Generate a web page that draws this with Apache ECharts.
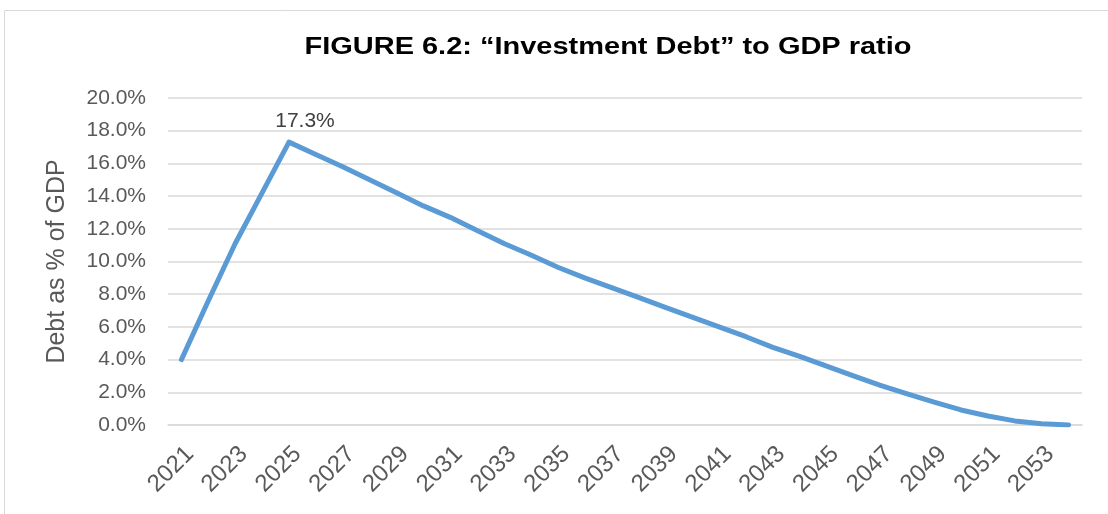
<!DOCTYPE html>
<html>
<head>
<meta charset="utf-8">
<title>Investment Debt to GDP ratio</title>
<script src="https://cdn.jsdelivr.net/npm/echarts@6/dist/echarts.min.js"></script>
<style>
  html, body { margin: 0; padding: 0; background: #ffffff; }
  #chart { width: 1108px; height: 514px; }
</style>
</head>
<body>
<div id="chart"></div>
<script>
// Years on the horizontal axis
const years = [];
for (let y = 2021; y <= 2054; y++) years.push(String(y));

// "Investment Debt" as a percentage of GDP, one value per year
const debtPct = [
  4.0, 7.6, 11.1, 14.2, 17.3, 16.55, 15.8, 15.0, 14.2, 13.4,
  12.7, 11.9, 11.1, 10.4, 9.65, 9.0, 8.4, 7.8, 7.2, 6.6,
  6.0, 5.4, 4.75, 4.2, 3.6, 3.0, 2.43, 1.9, 1.4, 0.92,
  0.55, 0.25, 0.08, 0.0
];

// Year whose value is labelled on the line
const labelledYear = '2025';

// Vertical axis range and step, in percent
const yMin = 0;
const yMax = 20;
const yStep = 2;

const titleText = 'FIGURE 6.2: \u201CInvestment Debt\u201D to GDP ratio';
const yAxisTitle = 'Debt as % of GDP';

const FONT = 'Liberation Sans, Arial, sans-serif';

const chart = echarts.init(document.getElementById('chart'), null, { renderer: 'canvas' });

const seriesData = debtPct.map((v, i) => {
  if (years[i] === labelledYear) {
    return {
      value: v,
      symbol: 'circle',
      symbolSize: 1,
      itemStyle: { opacity: 0 },
      label: {
        show: true,
        position: 'top',
        distance: 10,
        offset: [16, 0],
        formatter: (p) => p.value.toFixed(1) + '%',
        fontFamily: FONT,
        fontSize: 21,
        color: '#404040',
        opacity: 1
      }
    };
  }
  return v;
});

chart.setOption({
  animation: false,
  backgroundColor: '#ffffff',
  textStyle: { fontFamily: FONT },
  graphic: [
    {
      // chart frame
      type: 'rect',
      silent: true,
      shape: { x: 4.5, y: 10.5, width: 1120, height: 520 },
      style: { fill: 'none', stroke: '#d9d9d9', lineWidth: 1 }
    },
    {
      // chart title, set wide
      type: 'text',
      silent: true,
      x: 608,
      y: 48,
      scaleX: 1.26,
      scaleY: 1,
      style: {
        text: titleText,
        fontFamily: FONT,
        fontWeight: 'bold',
        fontSize: 23,
        fill: '#000000',
        textAlign: 'center',
        textVerticalAlign: 'middle'
      }
    }
  ],
  grid: { left: 168, right: 26, top: 98, bottom: 89, containLabel: false },
  xAxis: {
    type: 'category',
    data: years,
    boundaryGap: true,
    axisLine: { show: true, lineStyle: { color: '#d9d9d9', width: 1.5 } },
    axisTick: { show: false },
    axisLabel: {
      interval: 1,
      rotate: 45,
      margin: 17,
      align: 'right',
      verticalAlign: 'top',
      fontSize: 24,
      color: '#595959'
    },
    splitLine: { show: false }
  },
  yAxis: {
    type: 'value',
    min: yMin,
    max: yMax,
    interval: yStep,
    name: yAxisTitle,
    nameLocation: 'middle',
    nameGap: 98,
    nameRotate: 90,
    nameTextStyle: { fontSize: 25, color: '#595959' },
    axisLine: { show: false },
    axisTick: { show: false },
    axisLabel: {
      margin: 22,
      fontSize: 21,
      color: '#595959',
      formatter: (v) => v.toFixed(1) + '%'
    },
    splitLine: { show: true, lineStyle: { color: '#d9d9d9', width: 1.5 } }
  },
  series: [{
    type: 'line',
    data: seriesData,
    symbol: 'none',
    showSymbol: true,
    smooth: false,
    lineStyle: { color: '#5b9bd5', width: 5, cap: 'round', join: 'round' },
    itemStyle: { color: '#5b9bd5' },
    z: 3
  }]
});
</script>
</body>
</html>
